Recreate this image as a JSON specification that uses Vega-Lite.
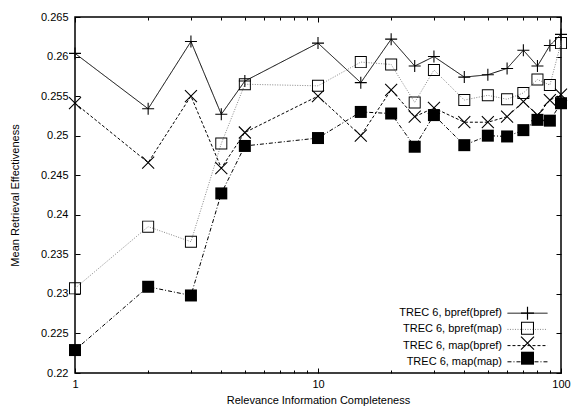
{
  "$schema": "https://vega.github.io/schema/vega-lite/v6.json",
  "autosize": {"type": "none"},
  "padding": {"left": 75, "top": 17, "right": 11, "bottom": 34},
  "width": 486,
  "height": 356,
  "background": "white",
  "config": {
    "font": "Liberation Sans",
    "view": {"stroke": "black", "strokeWidth": 1.5},
    "axis": {"labelFontSize": 11, "titleFontSize": 11, "labelColor": "black", "titleColor": "black", "titleFontWeight": "normal", "labelFlush": false}
  },
  "data": {"values": [
    {"x": 1, "series": "TREC 6, bpref(bpref)", "y": 0.2604},
    {"x": 2, "series": "TREC 6, bpref(bpref)", "y": 0.2534},
    {"x": 3, "series": "TREC 6, bpref(bpref)", "y": 0.2619},
    {"x": 4, "series": "TREC 6, bpref(bpref)", "y": 0.2527},
    {"x": 5, "series": "TREC 6, bpref(bpref)", "y": 0.2569},
    {"x": 10, "series": "TREC 6, bpref(bpref)", "y": 0.2617},
    {"x": 15, "series": "TREC 6, bpref(bpref)", "y": 0.2567},
    {"x": 20, "series": "TREC 6, bpref(bpref)", "y": 0.2622},
    {"x": 25, "series": "TREC 6, bpref(bpref)", "y": 0.2588},
    {"x": 30, "series": "TREC 6, bpref(bpref)", "y": 0.2600},
    {"x": 40, "series": "TREC 6, bpref(bpref)", "y": 0.2574},
    {"x": 50, "series": "TREC 6, bpref(bpref)", "y": 0.2577},
    {"x": 60, "series": "TREC 6, bpref(bpref)", "y": 0.2585},
    {"x": 70, "series": "TREC 6, bpref(bpref)", "y": 0.2608},
    {"x": 80, "series": "TREC 6, bpref(bpref)", "y": 0.2588},
    {"x": 90, "series": "TREC 6, bpref(bpref)", "y": 0.2614},
    {"x": 100, "series": "TREC 6, bpref(bpref)", "y": 0.2628},
    {"x": 1, "series": "TREC 6, bpref(map)", "y": 0.2307},
    {"x": 2, "series": "TREC 6, bpref(map)", "y": 0.2385},
    {"x": 3, "series": "TREC 6, bpref(map)", "y": 0.2366},
    {"x": 4, "series": "TREC 6, bpref(map)", "y": 0.2490},
    {"x": 5, "series": "TREC 6, bpref(map)", "y": 0.2565},
    {"x": 10, "series": "TREC 6, bpref(map)", "y": 0.2563},
    {"x": 15, "series": "TREC 6, bpref(map)", "y": 0.2593},
    {"x": 20, "series": "TREC 6, bpref(map)", "y": 0.2590},
    {"x": 25, "series": "TREC 6, bpref(map)", "y": 0.2542},
    {"x": 30, "series": "TREC 6, bpref(map)", "y": 0.2583},
    {"x": 40, "series": "TREC 6, bpref(map)", "y": 0.2545},
    {"x": 50, "series": "TREC 6, bpref(map)", "y": 0.2551},
    {"x": 60, "series": "TREC 6, bpref(map)", "y": 0.2546},
    {"x": 70, "series": "TREC 6, bpref(map)", "y": 0.2554},
    {"x": 80, "series": "TREC 6, bpref(map)", "y": 0.2571},
    {"x": 90, "series": "TREC 6, bpref(map)", "y": 0.2564},
    {"x": 100, "series": "TREC 6, bpref(map)", "y": 0.2617},
    {"x": 1, "series": "TREC 6, map(bpref)", "y": 0.2541},
    {"x": 2, "series": "TREC 6, map(bpref)", "y": 0.2466},
    {"x": 3, "series": "TREC 6, map(bpref)", "y": 0.2550},
    {"x": 4, "series": "TREC 6, map(bpref)", "y": 0.2459},
    {"x": 5, "series": "TREC 6, map(bpref)", "y": 0.2504},
    {"x": 10, "series": "TREC 6, map(bpref)", "y": 0.2550},
    {"x": 15, "series": "TREC 6, map(bpref)", "y": 0.2500},
    {"x": 20, "series": "TREC 6, map(bpref)", "y": 0.2558},
    {"x": 25, "series": "TREC 6, map(bpref)", "y": 0.2524},
    {"x": 30, "series": "TREC 6, map(bpref)", "y": 0.2535},
    {"x": 40, "series": "TREC 6, map(bpref)", "y": 0.2517},
    {"x": 50, "series": "TREC 6, map(bpref)", "y": 0.2517},
    {"x": 60, "series": "TREC 6, map(bpref)", "y": 0.2524},
    {"x": 70, "series": "TREC 6, map(bpref)", "y": 0.2543},
    {"x": 80, "series": "TREC 6, map(bpref)", "y": 0.2526},
    {"x": 90, "series": "TREC 6, map(bpref)", "y": 0.2545},
    {"x": 100, "series": "TREC 6, map(bpref)", "y": 0.2552},
    {"x": 1, "series": "TREC 6, map(map)", "y": 0.2229},
    {"x": 2, "series": "TREC 6, map(map)", "y": 0.2309},
    {"x": 3, "series": "TREC 6, map(map)", "y": 0.2298},
    {"x": 4, "series": "TREC 6, map(map)", "y": 0.2427},
    {"x": 5, "series": "TREC 6, map(map)", "y": 0.2487},
    {"x": 10, "series": "TREC 6, map(map)", "y": 0.2497},
    {"x": 15, "series": "TREC 6, map(map)", "y": 0.2530},
    {"x": 20, "series": "TREC 6, map(map)", "y": 0.2528},
    {"x": 25, "series": "TREC 6, map(map)", "y": 0.2486},
    {"x": 30, "series": "TREC 6, map(map)", "y": 0.2526},
    {"x": 40, "series": "TREC 6, map(map)", "y": 0.2488},
    {"x": 50, "series": "TREC 6, map(map)", "y": 0.2500},
    {"x": 60, "series": "TREC 6, map(map)", "y": 0.2499},
    {"x": 70, "series": "TREC 6, map(map)", "y": 0.2507},
    {"x": 80, "series": "TREC 6, map(map)", "y": 0.2520},
    {"x": 90, "series": "TREC 6, map(map)", "y": 0.2519},
    {"x": 100, "series": "TREC 6, map(map)", "y": 0.2541}
  ]},
  "layer": [
    {
      "mark": {"type": "line", "strokeWidth": 1},
      "encoding": {
        "x": {
          "field": "x", "type": "quantitative",
          "scale": {"type": "log", "domain": [1, 100], "nice": false},
          "axis": {"values": [1, 10, 100], "format": "d", "title": "Relevance Information Completeness",
                   "ticks": false, "domain": false, "grid": true, "gridColor": "black", "gridOpacity": 1,
                   "gridWidth": 1, "gridDash": [5, 346], "labelPadding": 5, "titlePadding": 5}
        },
        "y": {
          "field": "y", "type": "quantitative",
          "scale": {"domain": [0.22, 0.265], "nice": false, "zero": false},
          "axis": {"values": [0.22, 0.225, 0.23, 0.235, 0.24, 0.245, 0.25, 0.255, 0.26, 0.265], "format": "~g",
                   "title": "Mean Retrieval Effectiveness", "ticks": false, "domain": false, "grid": true,
                   "gridColor": "black", "gridOpacity": 1, "gridWidth": 1, "gridDash": [5, 476],
                   "labelPadding": 7, "titlePadding": 20}
        },
        "stroke": {
          "field": "series", "type": "nominal",
          "scale": {"domain": ["TREC 6, bpref(bpref)", "TREC 6, bpref(map)", "TREC 6, map(bpref)", "TREC 6, map(map)"],
                    "range": ["black", "#888888", "black", "black"]},
          "legend": {"title": null, "orient": "none", "legendX": 445.5, "legendY": 289.2, "symbolType": "M0,-1.03M0,1.03M-3.08,0H3.08",
                     "symbolSize": 169, "symbolStrokeWidth": 1, "rowPadding": -1.8,
                     "labelAlign": "right", "labelOffset": -32.5, "labelFontSize": 11, "labelColor": "black",
                     "padding": 0, "labelLimit": 300}
        },
        "strokeDash": {
          "field": "series", "type": "nominal",
          "scale": {"domain": ["TREC 6, bpref(bpref)", "TREC 6, bpref(map)", "TREC 6, map(bpref)", "TREC 6, map(map)"],
                    "range": [[1, 0], [1, 1.5], [3, 2], [4, 2, 1, 2]]},
          "legend": {"title": null, "orient": "none", "legendX": 445.5, "legendY": 289.2, "symbolType": "M0,-1.03M0,1.03M-3.08,0H3.08",
                     "symbolSize": 169, "symbolStrokeWidth": 1, "rowPadding": -1.8,
                     "labelAlign": "right", "labelOffset": -32.5, "labelFontSize": 11, "labelColor": "black",
                     "padding": 0, "labelLimit": 300}
        }
      }
    },
    {
      "mark": {"type": "point", "filled": true, "color": "black", "strokeWidth": 0, "size": 144, "opacity": 1},
      "encoding": {
        "x": {
          "field": "x", "type": "quantitative",
          "scale": {"type": "log", "domain": [1, 100], "nice": false},
          "axis": {"values": [2, 3, 4, 5, 6, 7, 8, 9, 20, 30, 40, 50, 60, 70, 80, 90], "labels": false, "title": null,
                   "ticks": false, "domain": false, "grid": true, "gridColor": "black", "gridOpacity": 1,
                   "gridWidth": 1, "gridDash": [3, 350]}
        },
        "y": {"field": "y", "type": "quantitative", "axis": null},
        "shape": {
          "field": "series", "type": "nominal",
          "scale": {"range": [
            "M0,-1.07M0,1.07M-1,-0.09H-0.09V-1H0.09V-0.09H1V0.09H0.09V1H-0.09V0.09H-1Z",
            "M0,-1.07M0,1.07M-1,-1H1V1H-1ZM-0.84,-0.84V0.84H0.84V-0.84Z",
            "M0,-1.07M0,1.07M-0.936,-1.064L1.064,0.936L0.936,1.064L-1.064,-0.936ZM-0.936,1.064L-1.064,0.936L0.936,-1.064L1.064,-0.936Z",
            "M0,-1.07M0,1.07M-1,-1H1V1H-1Z"]},
          "legend": {"title": null, "orient": "none", "legendX": 445.5, "legendY": 289.2, "symbolSize": 169,
                     "symbolStrokeWidth": 0.5, "symbolStrokeColor": "black", "symbolFillColor": "black", "symbolOpacity": 1,
                     "rowPadding": -1.8, "labelAlign": "right", "labelOffset": -32.5, "labelExpr": "''",
                     "padding": 0, "labelFontSize": 11, "labelLimit": 300}
        }
      }
    }
  ],
  "resolve": {"axis": {"x": "independent", "y": "independent"}}
}
